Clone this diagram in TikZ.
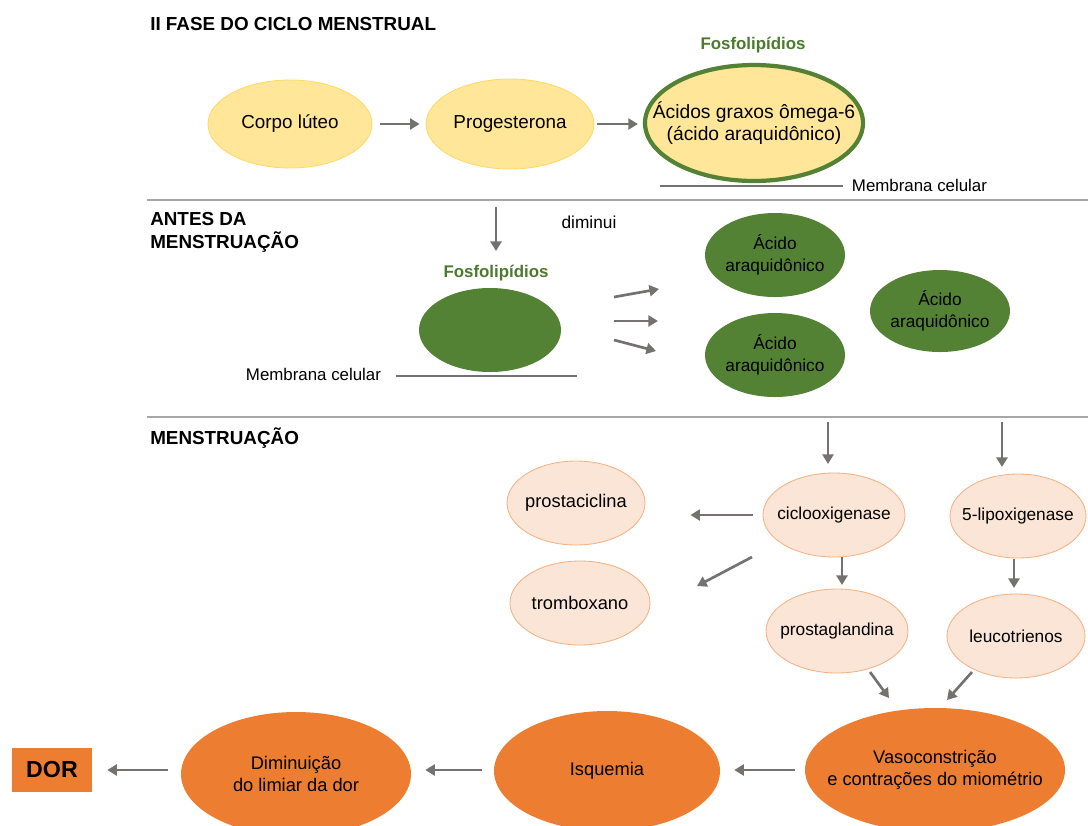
\documentclass[tikz,border=0pt]{standalone}
\usepackage{fontspec}
\setmainfont{Liberation Sans}
\usetikzlibrary{positioning,arrows.meta,shapes.geometric}
\definecolor{amarelo}{HTML}{FFE699}
\definecolor{amareloborda}{HTML}{FFD966}
\definecolor{verde}{HTML}{548235}
\definecolor{verdetxt}{HTML}{4B7A2E}
\definecolor{pessego}{HTML}{FBE5D6}
\definecolor{pessegoborda}{HTML}{F4B183}
\definecolor{laranja}{HTML}{ED7D31}
\definecolor{cinza}{HTML}{767171}
\definecolor{cinzaclaro}{HTML}{A6A6A6}
\def\pxu{0.025cm}
\tikzset{
  elip/.style 2 args={ellipse,inner sep=0pt,minimum width={2*#1*\pxu},minimum height={2*#2*\pxu}},
  rot/.style 2 args={label={[align=center,font=\fontsize{#1}{15.5}\selectfont]center:#2}},
  amar/.style={fill=amarelo,draw=amareloborda,line width=0.6pt},
  verd/.style={fill=verde,draw=none},
  pess/.style={fill=pessego,draw=pessegoborda,line width=0.6pt},
  lar/.style={fill=laranja,draw=none},
  seta/.style={draw=cinza,line width=1.9pt,-{Triangle[length=6.8pt,width=7.8pt]}},
  membrana/.style={draw=cinza,line width=2pt},
  memtxt/.style={font=\fontsize{12}{14}\selectfont},
  titulo/.style={anchor=west,align=left,inner xsep=0pt,font=\bfseries\fontsize{13.4}{16.4}\selectfont},
  fosfo/.style={text=verdetxt,font=\bfseries\fontsize{12}{14}\selectfont},
}
\begin{document}
\begin{tikzpicture}[x=0.025cm,y=-0.025cm,font=\fontsize{13}{15.5}\selectfont]
  \useasboundingbox (0,0) rectangle (1088,825);
  % faixas
  \draw[cinzaclaro,line width=0.8pt] (147,200) -- (1088,200);
  \draw[cinzaclaro,line width=0.8pt] (147,417) -- (1088,417);
  \node[titulo] (t1) at (150,24) {II FASE DO CICLO MENSTRUAL};
  \node[titulo] (t2) at (150,232) {ANTES DA\\MENSTRUAÇÃO};
  \node[titulo] (t3) at (150,438) {MENSTRUAÇÃO};

  % II fase
  \node[elip={82}{44},amar,rot={13.4}{Corpo lúteo}] (corpo) at (290,124) {};
  \node[elip={84}{45},amar,rot={13.4}{Progesterona}] (prog) at (510,124) {};
  \node[elip={109}{58},amar,draw=verde,line width=3pt,
        rot={13.7}{Ácidos graxos ômega-6\\(ácido araquidônico)}] (acidos) at (754,123) {};
  \node[fosfo] (f1) at (753,45) {Fosfolipídios};
  \draw[membrana] (660,186) -- (843,186);
  \node[memtxt,anchor=west] (m1) at (847,185) {Membrana celular};
  \draw[seta,shorten <={8*\pxu},shorten >={6*\pxu}] (corpo.east) -- (prog.west);
  \draw[seta,shorten <={3*\pxu},shorten >={5*\pxu}] (prog.east) -- (prog.east -| acidos.west);

  % antes da menstruacao
  \coordinate (d0) at (496,207); \coordinate (d1) at (496,251);
  \draw[seta] (d0) -- (d1);
  \node[font=\fontsize{12.3}{14}\selectfont] (dim) at (589,222) {diminui};
  \node[fosfo] (f2) at (496,273) {Fosfolipídios};
  \node[elip={71}{42},fill=verde] (fos) at (490,330) {};
  \draw[membrana] (396,376) -- (577,376);
  \node[memtxt,anchor=east] (m2) at (386,374) {Membrana celular};
  \node[elip={70}{42},verd,rot={12.3}{Ácido\\araquidônico}] (ac1) at (775,255) {};
  \node[elip={70}{41},verd,rot={12.3}{Ácido\\araquidônico}] (ac2) at (940,311) {};
  \node[elip={70}{42},verd,rot={12.3}{Ácido\\araquidônico}] (ac3) at (775,355) {};
  \coordinate (a1) at (614,297); \coordinate (b1) at (659,289);
  \coordinate (a2) at (614,321); \coordinate (b2) at (658,321);
  \coordinate (a3) at (614,340); \coordinate (b3) at (656,351);
  \draw[seta] (a1) -- (b1);
  \draw[seta] (a2) -- (b2);
  \draw[seta] (a3) -- (b3);

  % menstruacao
  \node[elip={71}{42},pess,rot={12.3}{ciclooxigenase}] (ciclo) at (834,515) {};
  \node[elip={68}{42},pess,rot={12.3}{5-lipoxigenase}] (lipo) at (1018,516) {};
  \node[elip={69}{42},pess,rot={13}{prostaciclina}] (prostac) at (576,503) {};
  \node[elip={70}{42},pess,rot={13}{tromboxano}] (tromb) at (580,603) {};
  \node[elip={71}{42},pess,rot={12.3}{prostaglandina}] (prostag) at (837,631) {};
  \node[elip={69}{42},pess,rot={12.3}{leucotrienos}] (leuco) at (1016,636) {};
  \coordinate (c0) at (828,422); \coordinate (c1) at (828,464);
  \coordinate (l0) at (1002,422); \coordinate (l1) at (1002,467);
  \draw[seta] (c0) -- (c1);
  \draw[seta] (l0) -- (l1);
  \draw[seta,shorten <={10*\pxu},shorten >={45*\pxu}] (ciclo.west) -- (prostac.east |- ciclo.west);
  \coordinate (t0) at (752,557); \coordinate (t1) at (697,586);
  \draw[seta] (t0) -- (t1);
  \coordinate (p0) at (842,557); \coordinate (p1) at (842,585);
  \draw[seta] (p0) -- (p1);
  \coordinate (q0) at (1014,559); \coordinate (q1) at (1014,588);
  \draw[seta] (q0) -- (q1);
  \coordinate (v0) at (870,672); \coordinate (v1) at (889,698);
  \coordinate (w0) at (972,672); \coordinate (w1) at (947,700);
  \draw[seta] (v0) -- (v1);
  \draw[seta] (w0) -- (w1);

  \node[elip={130}{62},lar,rot={13}{Vasoconstrição\\e contrações do miométrio}] (vaso) at (935,770) {};
  \node[elip={113}{60},lar,rot={13}{Isquemia}] (isq) at (607,771) {};
  \node[elip={115}{62},lar,rot={13}{Diminuição\\do limiar da dor}] (limiar) at (296,774) {};
  \node[fill=laranja,minimum width={80*\pxu},minimum height={44*\pxu},inner sep=0pt,font=\bfseries\fontsize{16.5}{18}\selectfont] (dor) at (52,770) {DOR};
  \draw[seta,shorten <={10*\pxu},shorten >={14*\pxu}] (vaso.west) -- (isq.east |- vaso.west);
  \draw[seta,shorten <={12*\pxu},shorten >={14*\pxu}] (isq.west |- vaso.west) -- (limiar.east |- vaso.west);
  \draw[seta,shorten <={13*\pxu},shorten >={15*\pxu}] (limiar.west |- vaso.west) -- (dor.east);
\end{tikzpicture}
\end{document}
